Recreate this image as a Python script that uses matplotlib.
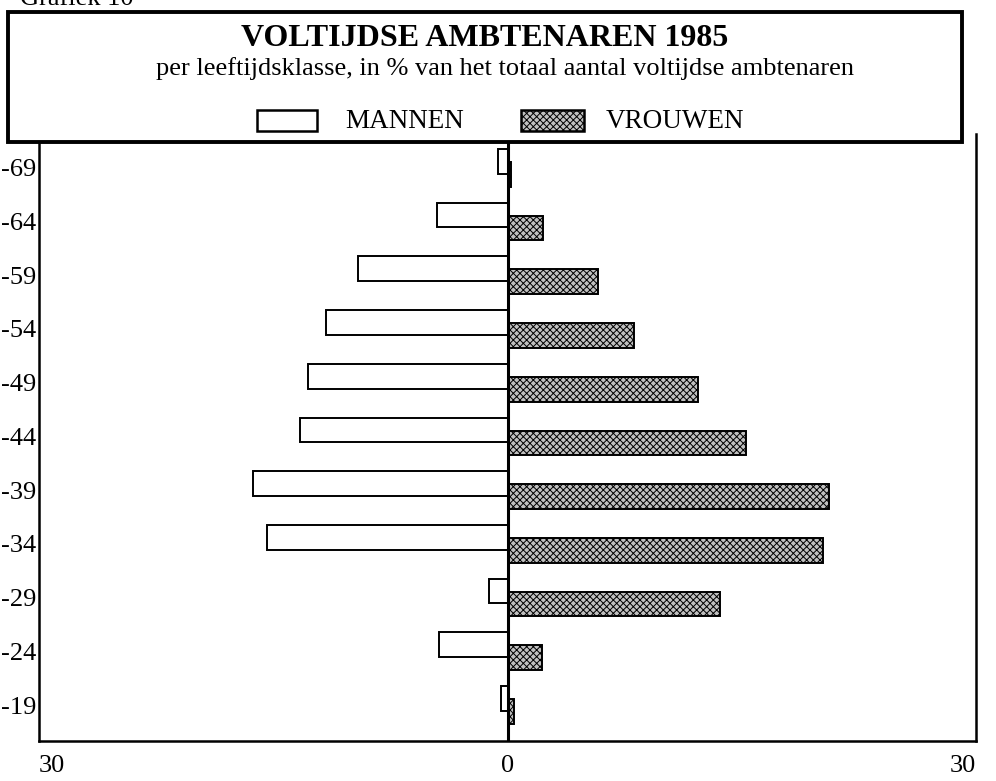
import matplotlib
matplotlib.use("Agg")
import matplotlib.pyplot as plt
from matplotlib.patches import Rectangle
import numpy as np

age_labels = ["-69", "-64", "-59", "-54", "-49", "-44", "-39", "-34", "-29", "-24", "-19"]
mannen = [0.6, 4.5, 9.6, 11.6, 12.8, 13.3, 16.3, 15.4, 1.2, 4.4, 0.4]
vrouwen = [0.25, 2.3, 5.8, 8.1, 12.2, 15.3, 20.6, 20.2, 13.6, 2.2, 0.4]
x_ticks = [-30, 0, 30]
x_ticklabels = ["30", "0", "30"]

title = "VOLTIJDSE AMBTENAREN 1985"
subtitle = "per leeftijdsklasse, in % van het totaal aantal voltijdse ambtenaren"

plt.rcParams['font.family'] = ['Liberation Serif', 'DejaVu Serif']
plt.rcParams['hatch.linewidth'] = 0.7
plt.rcParams['hatch.color'] = 'black'

W, H = 996, 781
fig = plt.figure(figsize=(W / 100, H / 100), dpi=100)

def fx(px):
    return px / W

def fy(py):
    return 1 - py / H

ax = fig.add_axes([fx(39), fy(741), fx(976) - fx(39), fy(134) - fy(741)])

n = len(age_labels)
ypos = np.arange(n)[::-1]  # -69 at top
bh = 0.46
off = 0.12
ax.barh(ypos + off, [-v for v in mannen], height=bh, color='white', edgecolor='black', linewidth=1.4, zorder=3)
ax.barh(ypos - off, vrouwen, height=bh, color='#c0c0c0', edgecolor='black', linewidth=1.4, hatch='xxxxx', zorder=3)

ax.set_xlim(-30, 30)
ax.set_ylim(-0.67, n - 1 + 0.63)
ax.axvline(0, color='black', linewidth=2.2, zorder=4)

ax.set_yticks(ypos)
ax.set_yticklabels(age_labels, fontsize=19)
ax.tick_params(axis='y', length=0, pad=2)
ax.set_xticks(x_ticks)
ax.set_xticklabels(x_ticklabels, fontsize=19)
ax.tick_params(axis='x', length=0, pad=10)
labs = ax.get_xticklabels()
labs[0].set_ha('left')
labs[2].set_ha('right')

for s in ['left', 'bottom', 'right']:
    ax.spines[s].set_linewidth(1.8)
ax.spines['top'].set_visible(False)

# partially visible header at top-left (cut off by the page edge, as in the scan)
fig.text(fx(20), fy(5), "Grafiek 10", fontsize=19, ha='left', va='baseline')

# title box
box = Rectangle((fx(8), fy(142)), fx(962) - fx(8), fy(12) - fy(142),
                transform=fig.transFigure, facecolor='white', edgecolor='black',
                linewidth=2.8, zorder=10)
fig.add_artist(box)
fig.text(fx(485), fy(38), title, fontsize=23, fontweight='bold', ha='center', va='center', zorder=11)
fig.text(fx(505), fy(69), subtitle, fontsize=19, ha='center', va='center', zorder=11)

# legend
r1 = Rectangle((fx(257), fy(131)), fx(317) - fx(257), fy(110) - fy(131),
               transform=fig.transFigure, facecolor='white', edgecolor='black', linewidth=1.8, zorder=11)
r2 = Rectangle((fx(521), fy(131)), fx(584) - fx(521), fy(110) - fy(131),
               transform=fig.transFigure, facecolor='#c0c0c0', edgecolor='black', linewidth=1.8,
               hatch='xxxxx', zorder=11)
fig.add_artist(r1)
fig.add_artist(r2)
fig.text(fx(345), fy(121), "MANNEN", fontsize=19.5, ha='left', va='center', zorder=12)
fig.text(fx(606), fy(121), "VROUWEN", fontsize=19.5, ha='left', va='center', zorder=12)

fig.savefig("out.png", dpi=100)
